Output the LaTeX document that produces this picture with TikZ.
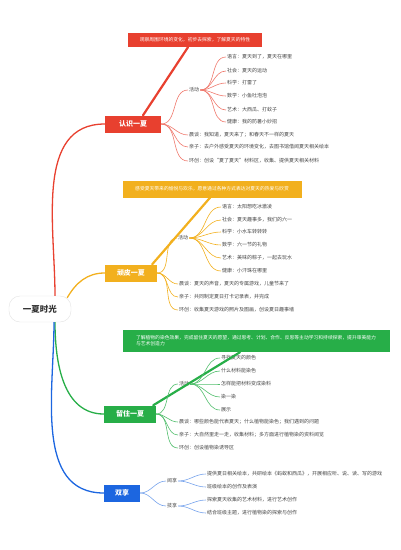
\documentclass[tikz,border=0pt]{standalone}
\usepackage{fontspec}
\newfontfamily\cjk{Noto Sans CJK SC}
\usepackage{tikz}
\usetikzlibrary{calc}

\definecolor{cred}{HTML}{E8402F}
\definecolor{cyel}{HTML}{F2B01E}
\definecolor{cgrn}{HTML}{27AE48}
\definecolor{cblu}{HTML}{1C66E0}
\definecolor{ctxt}{HTML}{444444}

\begin{document}
\begin{tikzpicture}[
          x=1pt, y=1pt,
          root/.style={rectangle, rounded corners=11pt, draw=gray!22,
                       fill=white, minimum width=62pt, minimum height=26pt,
                       text=black!80, font=\cjk\bfseries\fontsize{8.5}{9}\selectfont},
          topic/.style={rectangle, text=white, minimum height=17pt,
                        inner sep=1pt, text centered,
                        font=\cjk\bfseries\fontsize{7}{8}\selectfont},
          note/.style={rectangle, text=white, inner sep=3pt,
                       font=\cjk\fontsize{4.8}{6}\selectfont},
          leaf/.style={anchor=west, inner sep=1pt, text=ctxt,
                       font=\cjk\fontsize{5}{6}\selectfont},
          main/.style={line width=1.3pt},
          pin/.style={line width=2.2pt, line cap=round},
          thin/.style={line width=0.6pt}
        ]
          \useasboundingbox (0,0) rectangle (400,-550);
          \node[root] (ctr) at (40,-309) {一夏时光};
          % 认识一夏
          \node[topic, fill=cred, minimum width=56pt] (rz) at (133,-124) {认识一夏};
          \node[note, fill=cred, minimum width=134pt, minimum height=14pt] (rnote) at (195,-40)
               {观察周围环境的变化，初步去探索，了解夏天的特性};
          \node[leaf] (rhd) at (188,-90)  {活动};
          \node[leaf] (ra1) at (226,-57)  {语言：夏天到了，夏天在哪里};
          \node[leaf] (ra2) at (226,-71)  {社会：夏天的运动};
          \node[leaf] (ra3) at (226,-83)  {科学：打雷了};
          \node[leaf] (ra4) at (226,-96)  {数学：小鱼吐泡泡};
          \node[leaf] (ra5) at (226,-110) {艺术：大西瓜、打蚊子};
          \node[leaf] (ra6) at (226,-122) {健康：我的防暑小妙招};
          \node[leaf] (rb1) at (188,-135) {晨谈：我知道，夏天来了；和春天不一样的夏天};
          \node[leaf] (rb2) at (188,-147) {亲子：去户外感受夏天的环境变化，去图书馆借阅夏天相关绘本};
          \node[leaf] (rb3) at (188,-161) {环创：创设“夏了夏天”材料区，收集、提供夏天相关材料};
          % 顽皮一夏
          \node[topic, fill=cyel, minimum width=52pt] (yw) at (131,-273) {顽皮一夏};
          \node[note, fill=cyel, minimum width=179pt, minimum height=17pt] (ynote) at (212,-189)
               {感受夏天带来的愉悦与欢乐，愿意通过各种方式表达对夏天的热爱与欣赏};
          \node[leaf] (yhd) at (177,-238) {活动};
          \node[leaf] (ya1) at (221,-207) {语言：太阳想吃冰激凌};
          \node[leaf] (ya2) at (221,-220) {社会：夏天趣事多，我们的六一};
          \node[leaf] (ya3) at (221,-232) {科学：小水车转转转};
          \node[leaf] (ya4) at (221,-245) {数学：六一节的礼物};
          \node[leaf] (ya5) at (221,-258) {艺术：美味的粽子，一起去玩水};
          \node[leaf] (ya6) at (221,-271) {健康：小汗珠在哪里};
          \node[leaf] (yb1) at (178,-284) {晨谈：夏天的声音，夏天的专属游戏，儿童节来了};
          \node[leaf] (yb2) at (178,-297) {亲子：共同制定夏日打卡记录表，并完成};
          \node[leaf] (yb3) at (178,-310) {环创：收集夏天游戏的照片及图画，创设夏日趣事墙};
          % 留住一夏
          \node[topic, fill=cgrn, minimum width=52pt] (lz) at (130,-414) {留住一夏};
          \node[note, fill=cgrn, minimum width=267pt, minimum height=22pt, align=left] (gnote) at (256,-341)
               {了解植物的染色效果，完成留住夏天的愿望，通过思考、计划、合作、反思等主动学习和持续探索，提升审美能力\\与艺术创造力};
          \node[leaf] (ghd) at (178,-384) {活动};
          \node[leaf] (ga1) at (220,-358) {寻找夏天的颜色};
          \node[leaf] (ga2) at (220,-371) {什么材料能染色};
          \node[leaf] (ga3) at (220,-384) {怎样能把材料变成染料};
          \node[leaf] (ga4) at (220,-397) {染一染};
          \node[leaf] (ga5) at (220,-410) {展示};
          \node[leaf] (gb1) at (178,-422) {晨谈：哪些颜色能代表夏天；什么植物能染色；我们遇到的问题};
          \node[leaf] (gb2) at (178,-435) {亲子：大自然里走一走，收集材料；多方面进行植物染的资料阅览};
          \node[leaf] (gb3) at (178,-448) {环创：创设植物染诱导区};
          % 双享
          \node[topic, fill=cblu, minimum width=36pt] (sx) at (122,-493) {双享};
          \node[leaf] (bh1) at (166,-481) {阅享};
          \node[leaf] (bh2) at (166,-506) {技享};
          \node[leaf] (ba1) at (206,-474) {提供夏日相关绘本，共研绘本《蚂蚁和西瓜》，开展相应听、说、读、写的游戏};
          \node[leaf] (ba2) at (206,-487) {班级绘本的创作及表演};
          \node[leaf] (ba3) at (206,-500) {探索夏天收集的艺术材料，进行艺术创作};
          \node[leaf] (ba4) at (206,-513) {结合班级主题，进行植物染的探索与创作};
          % main branches
          \draw[main, cred] ([xshift=15pt]ctr.north) to[out=90, in=180] (rz.west);
          \draw[main, cyel] ([xshift=-4pt,yshift=-2pt]ctr.north east) to[out=60, in=180] (yw.west);
          \draw[main, cgrn] ([xshift=15pt]ctr.south) to[out=-90, in=180] (lz.west);
          \draw[main, cblu] ([xshift=14pt]ctr.south) to[out=-90, in=180] (sx.west);
          \draw[pin, cred] ([xshift=10pt]rz.north) -- ([xshift=-7pt]rnote.south);
          \draw[pin, cyel] ([xshift=-5pt]yw.north east) -- ([xshift=-2pt]ynote.south);
          \draw[pin, cgrn] ([xshift=-3pt]lz.north east) -- ([xshift=-16pt]gnote.south);
          % red leaves
          \foreach \n in {rhd, rb1, rb2, rb3}
            \draw[thin, cred!70] (rz.east) to[out=0, in=180] (\n.west);
          \foreach \n in {ra1, ra2, ra3, ra4, ra5, ra6}
            \draw[thin, cred!70] (rhd.east) to[out=0, in=180] (\n.west);
          % yellow leaves
          \foreach \n in {yhd, yb1, yb2, yb3}
            \draw[thin, cyel] (yw.east) to[out=0, in=180] (\n.west);
          \foreach \n in {ya1, ya2, ya3, ya4, ya5, ya6}
            \draw[thin, cyel] (yhd.east) to[out=0, in=180] (\n.west);
          % green leaves
          \foreach \n in {ghd, gb1, gb2, gb3}
            \draw[thin, cgrn!80] (lz.east) to[out=0, in=180] (\n.west);
          \foreach \n in {ga1, ga2, ga3, ga4, ga5}
            \draw[thin, cgrn!80] (ghd.east) to[out=0, in=180] (\n.west);
          % blue leaves
          \foreach \n in {bh1, bh2}
            \draw[thin, cblu!60] (sx.east) to[out=0, in=180] (\n.west);
          \foreach \n in {ba1, ba2}
            \draw[thin, cblu!60] (bh1.east) to[out=0, in=180] (\n.west);
          \foreach \n in {ba3, ba4}
            \draw[thin, cblu!60] (bh2.east) to[out=0, in=180] (\n.west);
        \end{tikzpicture}
\end{document}
